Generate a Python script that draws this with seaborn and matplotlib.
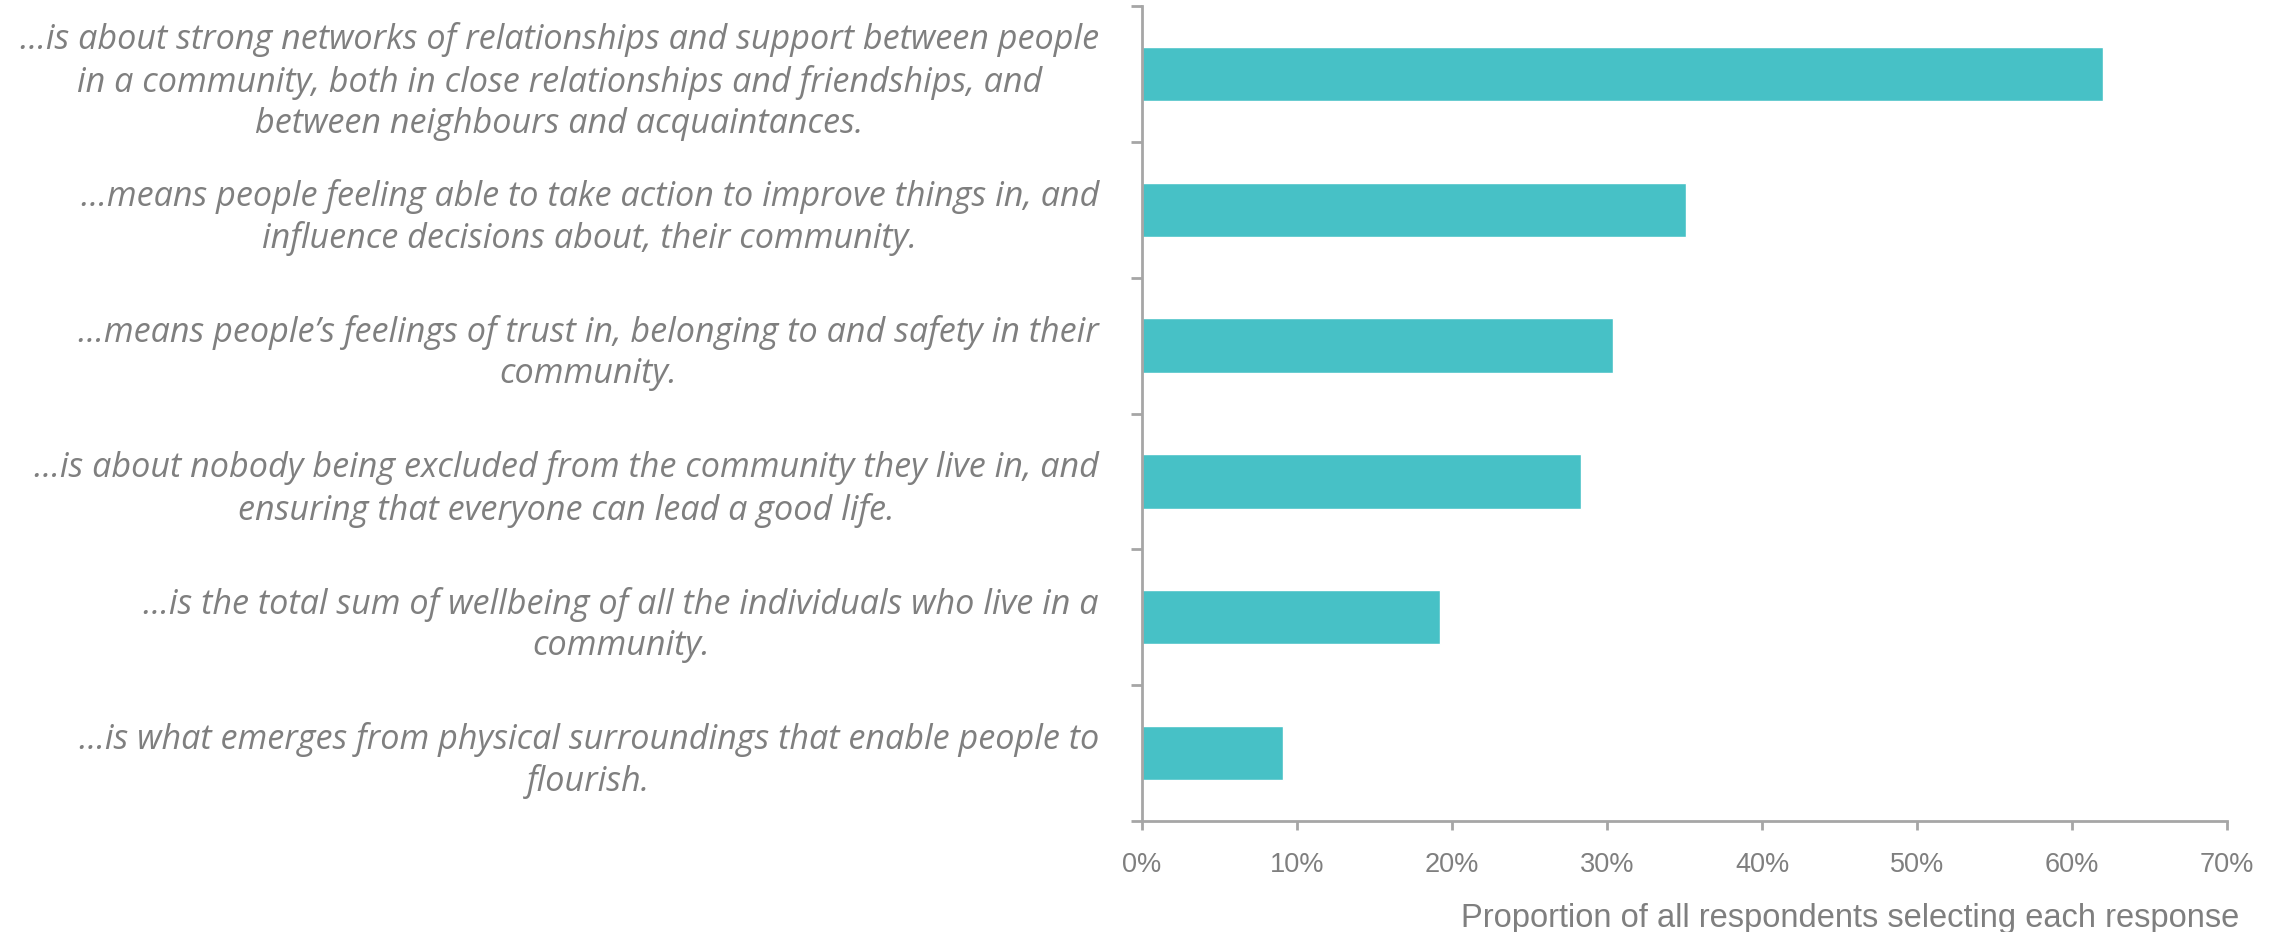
import matplotlib
matplotlib.use("Agg")
import matplotlib.pyplot as plt
import seaborn as sns
import pandas as pd
from matplotlib.ticker import FuncFormatter, FixedLocator

categories = [
    "…is about strong networks of relationships and support between people\nin a community, both in close relationships and friendships, and\nbetween neighbours and acquaintances.",
    "…means people feeling able to take action to improve things in, and\ninfluence decisions about, their community.",
    "...means people’s feelings of trust in, belonging to and safety in their\ncommunity.",
    "…is about nobody being excluded from the community they live in, and\nensuring that everyone can lead a good life.",
    "...is the total sum of wellbeing of all the individuals who live in a\ncommunity.",
    "...is what emerges from physical surroundings that enable people to\nflourish.",
]
values = [62.0, 35.1, 30.4, 28.3, 19.25, 9.1]
x_ticks = [0, 10, 20, 30, 40, 50, 60, 70]
x_label = "Proportion of all respondents selecting each response"

df = pd.DataFrame({"category": categories, "value": values})

sns.set_theme(style="white")
plt.rcParams["font.family"] = ["Open Sans", "DejaVu Sans"]

fig = plt.figure(figsize=(22.76, 9.32), dpi=100)
ax = fig.add_axes([1142 / 2276, 1 - 821 / 932, (2227 - 1142) / 2276, (821 - 6) / 932])

sns.barplot(data=df, x="value", y="category", color="#47C1C6", saturation=1,
            width=0.4, ax=ax, orient="h")

axis_gray = "#A6A6A6"
text_gray = "#7F7F7F"

ax.set_xlim(0, 70)
ax.set_ylim(len(categories) - 0.5, -0.5)
ax.xaxis.set_major_locator(FixedLocator(x_ticks))
ax.xaxis.set_major_formatter(FuncFormatter(lambda v, p: f"{int(v)}%"))

for s in ["top", "right"]:
    ax.spines[s].set_visible(False)
for s in ["left", "bottom"]:
    ax.spines[s].set_color(axis_gray)
    ax.spines[s].set_linewidth(2)

ax.tick_params(axis="x", which="major", direction="out", length=6.5, width=2,
               color=axis_gray, labelcolor=text_gray, labelsize=19.5, pad=16,
               bottom=True)
for lbl in ax.get_xticklabels():
    lbl.set_fontfamily(["Liberation Sans", "DejaVu Sans"])

# y: labels at centres (no tick marks), ticks at category boundaries
ax.tick_params(axis="y", which="major", length=0, pad=31, labelcolor=text_gray,
               labelsize=24.6, left=True)
ax.yaxis.set_minor_locator(FixedLocator([i - 0.5 for i in range(len(categories) + 1)]))
ax.tick_params(axis="y", which="minor", direction="out", length=8, width=2,
               color=axis_gray, left=True)
for lbl in ax.get_yticklabels():
    lbl.set_fontstyle("italic")
    lbl.set_multialignment("center")
    lbl.set_linespacing(1.27)

ax.set_ylabel("")
ax.set_xlabel(x_label, color=text_gray, fontsize=23.5,
              fontfamily=["Liberation Sans", "DejaVu Sans"])
ax.xaxis.set_label_coords(0.6525, -0.1006)

fig.savefig("out.png", dpi=100, facecolor="white")
